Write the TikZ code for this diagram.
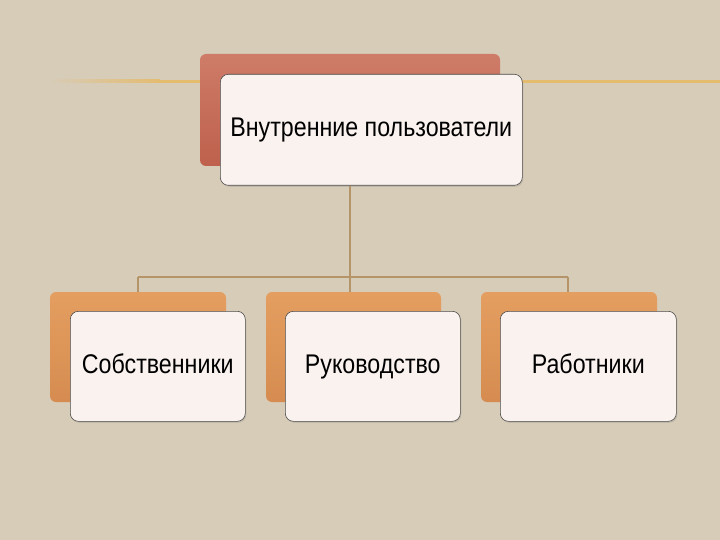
\documentclass[tikz,border=0pt]{standalone}
\usepackage{fontspec}
\setmainfont{Liberation Sans}[FakeStretch=0.86]
\usetikzlibrary{shadows}
\definecolor{bg}{RGB}{215,204,184}
\definecolor{gold}{RGB}{228,188,112}
\definecolor{conn}{RGB}{180,148,104}
\definecolor{redtop}{RGB}{206,124,104}
\definecolor{redbot}{RGB}{190,96,76}
\definecolor{ortop}{RGB}{228,158,96}
\definecolor{orbot}{RGB}{214,140,80}
\definecolor{card}{RGB}{250,242,238}
\tikzset{
  backred/.style={rounded corners=6pt, top color=redtop, bottom color=redbot, draw=none},
  backor/.style={rounded corners=6pt, top color=ortop, bottom color=orbot, draw=none},
  cardbox/.style={rounded corners=8pt, fill=card, draw=black!70, line width=0.6pt,
     drop shadow={shadow xshift=1pt, shadow yshift=-1.5pt, opacity=0.25},
     font=\fontsize{27}{30}\selectfont, text=black, inner sep=0pt,
     text height=19pt, text depth=5pt},
  connector/.style={draw=conn, line width=1.2pt}
}
\begin{document}
\begin{tikzpicture}[x=1pt,y=-1pt]
\useasboundingbox (0,0) rectangle (720,540);
\fill[bg] (0,0) rectangle (720,540);
% golden horizontal line
\shade[left color=bg, right color=gold] (48,80) rectangle (160,83);
\fill[gold] (160,80) rectangle (720,83);
% connectors
\coordinate (hl) at (138,277);
\coordinate (hr) at (568,277);
\coordinate (hm) at (350,277);
% top
\shade[backred] (200,54) rectangle (500,166);
\node[cardbox, minimum width=302pt, minimum height=111pt, anchor=north west] (top) at (220,74) {Внутренние пользователи};
% bottom back boxes
\shade[backor] (50,292) rectangle (226,402);
\shade[backor] (266,292) rectangle (441,402);
\shade[backor] (481,292) rectangle (657,402);
\coordinate (b1) at (138,292);
\coordinate (b2) at (350,292);
\coordinate (b3) at (568,292);
\draw[connector] (top.south -| hm) -- (hm);
\draw[connector] (hl) -- (hr);
\draw[connector] (hl) -- (b1);
\draw[connector] (hm) -- (b2);
\draw[connector] (hr) -- (b3);
\node[cardbox, minimum width=175pt, minimum height=110pt, anchor=north west] (own) at (70,311) {Собственники};
\node[cardbox, minimum width=175pt, minimum height=110pt, anchor=north west] (man) at (285,311) {Руководство};
\node[cardbox, minimum width=176pt, minimum height=110pt, anchor=north west] (emp) at (500,311) {Работники};
\end{tikzpicture}
\end{document}
